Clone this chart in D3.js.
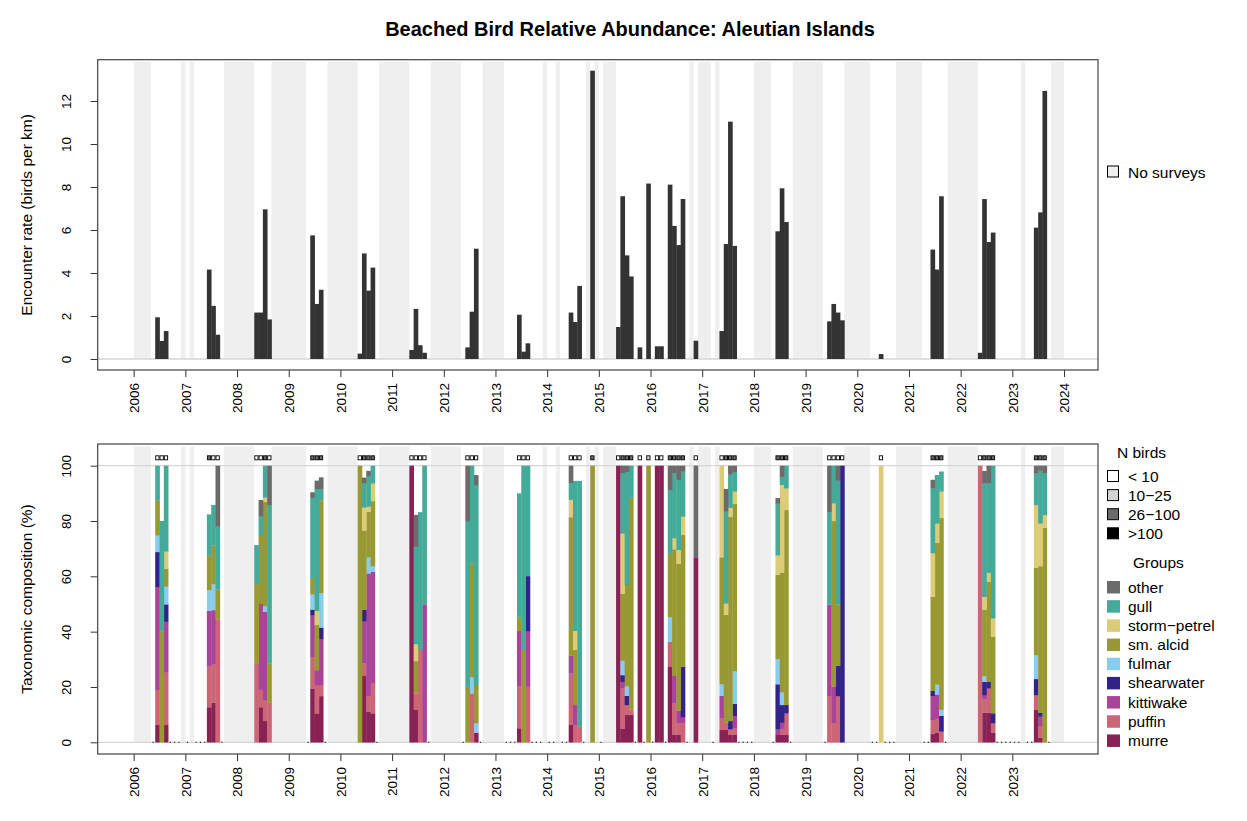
<!DOCTYPE html>
<html><head><meta charset="utf-8">
<script src="https://cdn.jsdelivr.net/npm/d3@7"></script>
<style>body{margin:0;background:#fff} text{font-family:"Liberation Sans",Arial,sans-serif;fill:#000}</style>
</head><body><svg id="c" width="1247" height="821"></svg>
<script>
// ---------------- DATA ----------------
const years = [2006,2007,2008,2009,2010,2011,2012,2013,2014,2015,2016,2017,2018,2019,2020,2021,2022,2023,2024];
const yearsBottom = years.slice(0, 18);
const topTicks = [0,2,4,6,8,10,12];
const botTicks = [0,20,40,60,80,100];

const barMonths = ["2006-06","2006-07","2006-08","2007-06","2007-07","2007-08","2008-05","2008-06","2008-07","2008-08",
"2009-06","2009-07","2009-08","2010-05","2010-06","2010-07","2010-08","2011-05","2011-06","2011-07","2011-08",
"2012-06","2012-07","2012-08","2013-06","2013-07","2013-08","2014-06","2014-07","2014-08","2014-11",
"2015-05","2015-06","2015-07","2015-08","2015-10","2015-12","2016-02","2016-03","2016-05","2016-06","2016-07","2016-08","2016-11",
"2017-05","2017-06","2017-07","2017-08","2018-06","2018-07","2018-08","2019-06","2019-07","2019-08","2019-09","2020-06",
"2021-06","2021-07","2021-08","2022-05","2022-06","2022-07","2022-08","2023-06","2023-07","2023-08"];

const encounterRate = [1.94,0.84,1.30, 4.16,2.47,1.13, 2.16,2.16,6.96,1.84, 5.75,2.56,3.22, 0.25,4.91,3.18,4.25,
 0.42,2.33,0.64,0.29, 0.54,2.20,5.13, 2.06,0.34,0.73, 2.16,1.72,3.40,13.41,
 1.49,7.57,4.82,3.84,0.54,8.16, 0.59,0.59,8.11,6.19,5.30,7.44,0.85,
 1.30,5.35,11.04,5.26, 5.94,7.94,6.37, 1.75,2.56,2.16,1.80, 0.23, 5.09,4.16,7.57, 0.29,7.44,5.44,5.88, 6.11,6.82,12.47];

// N birds class: 0 "<10", 1 "10-25", 2 "26-100", 3 ">100"
const nBirdsClass = [0,0,0, 2,0,0, 0,0,2,0, 2,2,2, 0,2,2,2, 0,0,0,0, 0,0,0, 0,0,0, 0,0,0,2,
 0,2,2,2,0,1, 0,0,2,2,2,2,0, 0,2,2,2, 2,2,2, 0,0,0,0, 0, 2,2,2, 0,2,2,2, 2,2,2];

const noSurveyRanges = [["2006-01","2006-04"],["2006-12","2006-12"],["2007-02","2007-02"],["2007-10","2008-04"],
 ["2008-09","2009-04"],["2009-10","2010-04"],["2010-10","2011-04"],["2011-10","2012-04"],["2012-10","2013-02"],
 ["2013-12","2013-12"],["2014-03","2014-03"],["2014-10","2014-10"],["2014-12","2014-12"],["2015-02","2015-04"],
 ["2016-10","2016-10"],["2016-12","2017-02"],["2017-04","2017-04"],["2018-01","2018-04"],["2018-10","2019-04"],
 ["2019-10","2020-03"],["2020-10","2021-03"],["2021-10","2022-04"],["2023-03","2023-03"],["2023-10","2023-12"]];

// composition (%) per bar, stacked bottom to top
const murre = [6.3,0,6.3, 12.7,14.3,0, 0,12.7,7.7,0, 19.5,10.5,16.7, 0,24.0,11.1,10.5, 100,11.9,0,0, 0,0,3.5, 5.1,0,0, 6.3,0,0,0,
 100,5.0,9.9,9.9,100,0, 100,100,27.3,2.7,2.7,0,66.9, 4.5,4.5,2.7,2.7, 2.7,2.7,2.7, 0,0,0,0, 0, 3.0,3.6,0, 0,10.7,10.7,3.5, 11.7,1.7,0];
const puffin = [12.6,0,18.9, 14.7,14.0,44.5, 28.6,6.3,7.6,14.3, 11.4,10.2,4.0, 0,4.6,5.7,10.8, 0,5.8,33.4,0, 0,17.7,0, 15.1,0,20.1, 18.7,6.3,5.7,0,
 0,14.5,3.6,2.0,0,0, 0,0,9.0,11.4,4.2,6.9,0, 4.2,2.6,2.0,2.4, 0,2.0,7.8, 16.7,6.9,16.7,0, 0, 5.1,4.7,3.9, 100,4.8,8.8,3.4, 5.4,4.2,0];
const kittiwake = [37.3,0,18.4, 20.2,19.5,0, 0,31.0,31.9,0, 15.1,5.4,16.6, 0,15.1,44.3,40.4, 0,0,0,49.9, 0,0,0, 20.1,0,20.1, 6.3,7.2,0,0,
 0,2.4,0,0,0,0, 0,0,0,9.9,4.6,2.2,0, 8.1,0,0,4.5, 2.0,2.4,0, 33.1,13.3,0,0, 0, 8.7,9.0,0, 0,1.6,0,0, 0,3.4,0];
const shearwater = [12.6,0,6.3, 0,0,0, 0,0,0,0, 2.0,0,4.2, 0,4.2,0,0, 0,0,0,0, 0,0,0, 0,0,19.9, 0,0,0,0,
 0,2.4,3.3,0,0,0, 0,0,0,0,0,18.3,0, 0,0,3.0,4.3, 16.3,6.4,3.0, 0,0,11.0,100, 0, 1.8,0,5.7, 0,4.8,2.4,3.6, 5.8,1.4,0];
const fulmar = [6.0,0,6.4, 7.5,9.4,0, 0,0,2.0,0, 5.5,0,12.5, 0,0,5.8,2.0, 0,0,0,0, 0,5.8,3.4, 0,0,0, 0,0,0,0,
 0,5.2,3.4,0,0,0, 0,0,9.0,0,0,0,0, 4.2,0,0,11.9, 9.2,4.6,0, 0,0,0,0, 0, 0,3.6,2.2, 0,2.0,0,0, 8.7,0,0];
const smAlcid = [12.6,40.2,6.4, 12.4,14.0,10.8, 28.7,25.0,37.7,14.2, 5.9,16.3,33.5, 100,28.7,16.5,23.5, 0,11.7,0,0, 20.1,41.2,13.9, 4.8,33.4,0, 50.1,19.9,0,100,
 0,24.3,36.7,76.6,0,100, 0,0,22.9,45.8,53.0,47.6,0, 45.9,39.0,73.8,60.4, 30.4,43.3,70.5, 0,59.8,22.2,0, 0, 34.1,51.3,69.3, 0,24.1,36.1,27.7, 31.6,53.0,77.6];
const stormPetrel = [0,0,6.3, 0,0,0, 0,0,1.6,0, 0,5.1,0, 0,8.3,1.8,6.4, 0,6.1,0,0, 0,0,0, 0,0,0, 6.3,6.9,0,0,
 0,21.7,0,0,0,0, 0,0,0,4.0,5.1,6.6,0, 33.1,4.1,3.3,4.5, 7.0,31.7,7.8, 0,6.4,0,0, 100, 15.7,6.9,9.6, 0,4.6,3.3,6.6, 22.6,15.4,4.6];
const gull = [12.6,39.8,31.0, 14.9,14.6,22.7, 14.0,6.6,11.5,57.3, 29.0,44.1,4.0, 0,8.8,11.1,6.4, 0,35.2,49.8,50.1, 59.9,35.3,72.2, 44.9,66.6,39.9, 6.0,54.2,88.8,0,
 0,21.7,40.9,11.5,0,0, 0,0,22.9,23.5,25.3,16.3,0, 0,33.2,12.0,7.0, 18.7,2.7,8.2, 33.5,13.6,44.7,0, 0, 23.5,17.5,7.2, 0,41.0,32.3,55.2, 11.4,19.1,15.1];
const other = [0,0,0, 0,0,22.0, 0,6.0,0,14.2, 2.0,3.0,4.3, 0,2.0,1.8,0, 0,11.5,0,0, 20.0,0,3.6, 0,0,0, 6.3,0,0,0,
 0,2.8,2.2,0,0,0, 0,0,8.9,2.7,5.1,2.1,33.1, 0,8.2,3.2,2.3, 2.0,4.2,0, 16.7,0,5.4,0, 0, 3.0,0,0, 0,4.5,6.4,0, 2.8,1.8,2.7];

const groupNames = ["murre","puffin","kittiwake","shearwater","fulmar","sm. alcid","storm\u2212petrel","gull","other"];
const groupValues = [murre,puffin,kittiwake,shearwater,fulmar,smAlcid,stormPetrel,gull,other];
const groupColors = ["#882255","#CC6677","#AA4499","#332288","#88CCEE","#999933","#DDCC77","#44AA99","#6B6B6B"];
const nBirdsLabels = ["< 10","10\u221225","26\u2212100",">100"];
const nBirdsFills = ["#ffffff","#d3d3d3","#6b6b6b","#000000"];

// ---------------- HELPERS ----------------
const mIdx = s => (+s.slice(0,4) - 2006) * 12 + (+s.slice(5,7) - 1);
const svg = d3.select("#c");
const FONT = '"Liberation Sans",Arial,sans-serif';
const OV = 0.35; // tiny overlap to avoid anti-aliasing seams

const P1 = {l:97.7, r:1098, t:59.7, b:370};
const P2 = {l:97.7, r:1098, t:444, b:754};
const x = d3.scaleLinear().domain([-8.351, 223.89]).range([P1.l, P1.r]);
const yTop = d3.scaleLinear().domain([-0.5116, 13.921]).range([P1.b, P1.t]);
const yBot = d3.scaleLinear().domain([-4.23, 107.84]).range([P2.b, P2.t]);

const barIdx = barMonths.map(mIdx);
const barSet = new Set(barIdx);
const nsSet = new Set();
noSurveyRanges.forEach(([a,b]) => { for (let k = mIdx(a); k <= mIdx(b); k++) nsSet.add(k); });
const zeroMonths = d3.range(0, 216).filter(k => !barSet.has(k) && !nsSet.has(k));

// ---------------- TITLE ----------------
svg.append("text").attr("x", 630).attr("y", 36).attr("text-anchor","middle")
  .style("font-size","20px").style("font-weight","bold").text("Beached Bird Relative Abundance: Aleutian Islands");

// ---------------- PANEL helper ----------------
function panel(P, y, bandTop, ticks, xYears, yTitle) {
  const g = svg.append("g");
  g.selectAll("rect.band").data(noSurveyRanges).join("rect").attr("class","band")
    .attr("x", r => x(mIdx(r[0]))).attr("width", r => x(mIdx(r[1]) + 1) - x(mIdx(r[0])))
    .attr("y", y(bandTop)).attr("height", y(0) - y(bandTop)).attr("fill", "#efefef");
  g.append("line").attr("x1", P.l).attr("x2", P.r).attr("y1", y(0)).attr("y2", y(0))
    .attr("stroke", "#d6d6d6").attr("stroke-width", 1.3);
  const ya = g.append("g").attr("transform", `translate(${P.l},0)`)
    .call(d3.axisLeft(y).tickValues(ticks).tickSize(7).tickFormat(d3.format("d")));
  ya.select(".domain").remove();
  ya.selectAll(".tick line").attr("stroke", "#333");
  ya.selectAll(".tick text").attr("x", null).attr("dy", null)
    .attr("transform", "translate(-26.5,0) rotate(-90)").attr("text-anchor","middle")
    .style("font-size","13.5px").style("font-family", FONT).attr("fill","#000");
  const xa = g.append("g").attr("transform", `translate(0,${P.b})`)
    .call(d3.axisBottom(x).tickValues(xYears.map(yv => (yv - 2006) * 12)).tickSize(7)
      .tickFormat(v => String(2006 + v / 12)));
  xa.select(".domain").remove();
  xa.selectAll(".tick line").attr("stroke", "#333");
  xa.selectAll(".tick text").attr("y", null).attr("dy", null)
    .attr("transform", "translate(4.8,13) rotate(-90)").attr("text-anchor","end")
    .style("font-size","13.5px").style("font-family", FONT).attr("fill","#000");
  g.append("text").attr("transform", `translate(32,${(P.t + P.b) / 2}) rotate(-90)`)
    .attr("text-anchor","middle").style("font-size","15.5px").text(yTitle);
  return g;
}

// ---------------- TOP PANEL ----------------
const g1 = panel(P1, yTop, 13.83, topTicks, years, "Encounter rate (birds per km)");
g1.selectAll("rect.bar").data(barIdx).join("rect").attr("class","bar")
  .attr("x", k => x(k)).attr("width", k => x(k+1) - x(k) + OV)
  .attr("y", (k,i) => yTop(encounterRate[i])).attr("height", (k,i) => yTop(0) - yTop(encounterRate[i]))
  .attr("fill", "#333333");
g1.append("rect").attr("x", P1.l).attr("y", P1.t).attr("width", P1.r - P1.l).attr("height", P1.b - P1.t)
  .attr("fill","none").attr("stroke","#444").attr("stroke-width",1.2);

svg.append("rect").attr("x",1107.5).attr("y",166).attr("width",11).attr("height",11)
  .attr("fill","#efefef").attr("stroke","#000").attr("stroke-width",1);
svg.append("text").attr("x",1128).attr("y",177.5).style("font-size","15.5px").text("No surveys");

// ---------------- BOTTOM PANEL ----------------
const g2 = panel(P2, yBot, 106.9, botTicks, yearsBottom, "Taxonomic composition (%)");
g2.append("line").attr("x1", P2.l).attr("x2", P2.r).attr("y1", yBot(100)).attr("y2", yBot(100))
  .attr("stroke", "#d6d6d6").attr("stroke-width", 1.3);

const stackData = barIdx.map((k, i) => {
  const o = {k};
  groupNames.forEach((n, j) => o[n] = groupValues[j][i]);
  return o;
});
const series = d3.stack().keys(groupNames)(stackData);
g2.selectAll("g.ser").data(series).join("g").attr("class","ser")
  .attr("fill", (s, j) => groupColors[j])
  .selectAll("rect").data(s => s.filter(d => d[1] - d[0] > 0)).join("rect")
  .attr("x", d => x(d.data.k)).attr("width", d => x(d.data.k + 1) - x(d.data.k) + OV)
  .attr("y", d => yBot(d[1])).attr("height", d => yBot(d[0]) - yBot(d[1]) + 0.2);

g2.selectAll("rect.zero").data(zeroMonths).join("rect").attr("class","zero")
  .attr("x", k => x(k + 0.5) - 0.6).attr("width", 1.2)
  .attr("y", yBot(0) - 0.6).attr("height", 1.2).attr("fill", "#222");

g2.selectAll("rect.nb").data(barIdx).join("rect").attr("class","nb")
  .attr("x", k => x(k) + 0.5).attr("width", k => x(k+1) - x(k) - 1)
  .attr("y", 455.8).attr("height", 4)
  .attr("fill", (k,i) => nBirdsFills[nBirdsClass[i]]).attr("stroke","#000").attr("stroke-width",0.9);

g2.append("rect").attr("x", P2.l).attr("y", P2.t).attr("width", P2.r - P2.l).attr("height", P2.b - P2.t)
  .attr("fill","none").attr("stroke","#444").attr("stroke-width",1.2);

// ---------------- BOTTOM LEGENDS ----------------
svg.append("text").attr("x",1117).attr("y",458).style("font-size","15.5px").text("N birds");
nBirdsLabels.forEach((lab, i) => {
  const yy = 470.5 + i * 19.1;
  svg.append("rect").attr("x",1107.5).attr("y",yy).attr("width",11).attr("height",11)
    .attr("fill", nBirdsFills[i]).attr("stroke","#000").attr("stroke-width",1);
  svg.append("text").attr("x",1128).attr("y",yy + 11.3).style("font-size","15.5px").text(lab);
});
svg.append("text").attr("x",1133).attr("y",568).style("font-size","15.5px").text("Groups");
d3.range(groupNames.length).reverse().forEach((j, i) => {
  const yy = 581 + i * 19.18;
  svg.append("rect").attr("x",1107).attr("y",yy).attr("width",13).attr("height",12.5).attr("fill", groupColors[j]);
  svg.append("text").attr("x",1128).attr("y",yy + 11.5).style("font-size","15.5px").text(groupNames[j]);
});
</script></body></html>
